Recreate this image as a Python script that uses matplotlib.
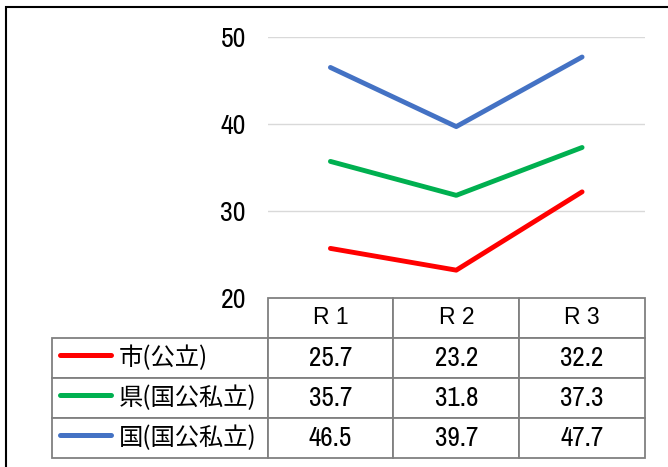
import matplotlib
matplotlib.use('Agg')
import matplotlib.pyplot as plt
from matplotlib import font_manager
from matplotlib.patches import Rectangle

# データ
年度 = ['R 1', 'R 2', 'R 3']
系列名 = ['市(公立)', '県(国公私立)', '国(国公私立)']
市 = [25.7, 23.2, 32.2]
県 = [35.7, 31.8, 37.3]
国 = [46.5, 39.7, 47.7]
色 = ['#FF0000', '#00B050', '#4472C4']
y目盛 = [20, 30, 40, 50]


def フォント選択(候補):
    for f in 候補:
        try:
            font_manager.findfont(f, fallback_to_default=False)
            return f
        except Exception:
            pass
    return 'DejaVu Sans'


数字フォント = フォント選択(['Liberation Sans Narrow', 'Archivo Narrow', 'Roboto Condensed', 'Liberation Sans'])
日本語フォント = ['Noto Sans CJK JP', 'DejaVu Sans']

fig = plt.figure(figsize=(6.68, 4.67), dpi=100)
W, H = 668, 467
ax = fig.add_axes([267.5 / W, (H - 298) / H, (645 - 267.5) / W, 261 / H])

系列 = [市, 県, 国]
x = list(range(len(年度)))
for vals, c in zip(系列, 色):
    ax.plot(x, vals, color=c, lw=3.5, solid_capstyle='round', solid_joinstyle='round', zorder=3)

ax.set_xlim(-0.5, len(年度) - 0.5)
ax.set_ylim(20, 50)
ax.set_yticks(y目盛)
ax.set_xticks([])
ax.tick_params(axis='y', length=0, pad=15.5)
for t in ax.get_yticklabels():
    t.set_fontfamily(数字フォント)
    t.set_fontsize(20)
for s in ax.spines.values():
    s.set_visible(False)
for v in y目盛[1:]:
    ax.axhline(v, color='#D9D9D9', lw=1, zorder=1)

# データテーブル
セル = [[''] + 年度]
for name, vals in zip(系列名, 系列):
    セル.append([name] + [f'{v:.1f}' for v in vals])

左 = (51.7 - 267.5) / 377.5
幅 = (645 - 51.7) / 377.5
高さ = (458 - 298) / 261
tbl = ax.table(cellText=セル, cellLoc='center', colWidths=[215.8, 125.8, 125.8, 125.8],
               bbox=[左, -高さ, 幅, 高さ])
tbl.auto_set_font_size(False)
for (r, c), cell in tbl.get_celld().items():
    cell.set_edgecolor('#808080')
    cell.set_linewidth(1.3)
    txt = cell.get_text()
    if r == 0 and c == 0:
        cell.visible_edges = ''
    elif r == 0:
        txt.set_fontfamily('Liberation Sans')
        txt.set_fontsize(16.5)
    elif c == 0:
        txt.set_fontfamily(日本語フォント)
        txt.set_fontsize(17.5)
        txt.set_ha('left')
        cell._loc = 'left'
        cell.PAD = 0.31
    else:
        txt.set_fontfamily(数字フォント)
        txt.set_fontsize(19.5)

# 凡例の線
行高 = 高さ / 4
for i, c in enumerate(色):
    yc = -行高 * (i + 1.5) + 3.5 / 261
    ax.plot([(60 - 267.5) / 377.5, (110.5 - 267.5) / 377.5], [yc, yc], color=c, lw=3.6,
            solid_capstyle='round', transform=ax.transAxes, clip_on=False)

# 外枠
fig.add_artist(Rectangle((6 / W, -0.1), 1.0, (H - 7) / H + 0.1, transform=fig.transFigure,
                         fill=False, edgecolor='black', lw=1.5))

fig.savefig('out.png', dpi=100)
